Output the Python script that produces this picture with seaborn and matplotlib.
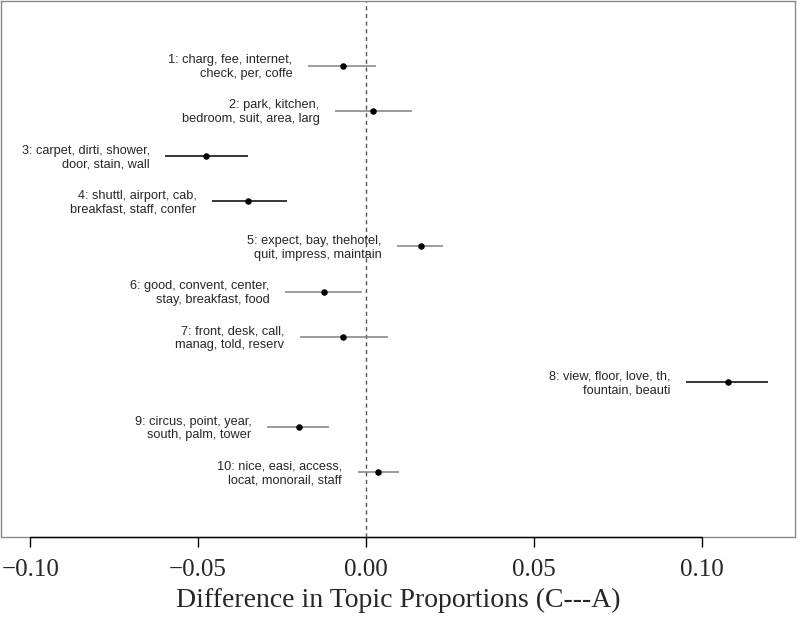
import matplotlib
matplotlib.use("Agg")
import matplotlib.pyplot as plt
import seaborn as sns
import pandas as pd

topics = [1, 2, 3, 4, 5, 6, 7, 8, 9, 10]
labels = [
    "1: charg, fee, internet,\ncheck, per, coffe",
    "2: park, kitchen,\nbedroom, suit, area, larg",
    "3: carpet, dirti, shower,\ndoor, stain, wall",
    "4: shuttl, airport, cab,\nbreakfast, staff, confer",
    "5: expect, bay, thehotel,\nquit, impress, maintain",
    "6: good, convent, center,\nstay, breakfast, food",
    "7: front, desk, call,\nmanag, told, reserv",
    "8: view, floor, love, th,\nfountain, beauti",
    "9: circus, point, year,\nsouth, palm, tower",
    "10: nice, easi, access,\nlocat, monorail, staff",
]
estimate = [-0.0069, 0.0022, -0.0477, -0.0350, 0.0163, -0.0126, -0.0067, 0.1077, -0.0199, 0.0036]
ci_lower = [-0.0172, -0.0092, -0.0598, -0.0459, 0.0093, -0.0241, -0.0197, 0.0954, -0.0295, -0.0025]
ci_upper = [0.0030, 0.0136, -0.0352, -0.0236, 0.0229, -0.0013, 0.0065, 0.1198, -0.0110, 0.0099]
line_colors = ["#808080", "#808080", "black", "black", "#808080",
               "#808080", "#808080", "black", "#808080", "#808080"]
xticks = [-0.10, -0.05, 0.00, 0.05, 0.10]
xtick_labels = ["\u22120.10", "\u22120.05", "0.00", "0.05", "0.10"]
xlabel = "Difference in Topic Proportions (C---A)"

df = pd.DataFrame({"topic": topics, "estimate": estimate,
                   "lower": ci_lower, "upper": ci_upper})

sns.set_style("white")
plt.rcParams["font.family"] = ["Liberation Sans", "DejaVu Sans"]

fig = plt.figure(figsize=(8, 6.22), dpi=100)
ax = fig.add_axes([1 / 800, 85 / 622, 794 / 800, 536 / 622])

XL = (-0.1087, 0.1278)
YL = (11.43, -0.43)
ax.set_xlim(*XL)
ax.set_ylim(*YL)

ax.axvline(0, color="#555555", lw=1.0, ls=(0, (3, 2.5)), zorder=1)

ax.hlines(df["topic"], df["lower"], df["upper"], colors=line_colors, lw=1.1, zorder=2)
sns.scatterplot(data=df, x="estimate", y="topic", color="black", s=22,
                edgecolor="black", linewidth=0, ax=ax, zorder=3)

for t, lo, lab in zip(topics, ci_lower, labels):
    ax.text(lo - 0.0046, t + 0.03, lab, ha="right", va="center",
            multialignment="right", fontsize=9.2, linespacing=1.18,
            family=["Liberation Sans", "DejaVu Sans"])

for side in ["top", "left", "right"]:
    ax.spines[side].set_color("#8a8a8a")
    ax.spines[side].set_linewidth(1.0)
ax.spines["bottom"].set_visible(False)
ax.plot(list(XL), [YL[0], YL[0]], color="#8a8a8a", lw=1.0, clip_on=False, zorder=4)
ax.plot([xticks[0], xticks[-1]], [YL[0], YL[0]], color="black", lw=1.0, clip_on=False, zorder=5)

ax.set_yticks([])
ax.set_xticks(xticks)
ax.set_xticklabels(xtick_labels, family=["Liberation Serif", "DejaVu Serif"], fontsize=18)
ax.tick_params(axis="x", direction="out", length=7, width=1, color="black",
               pad=9, bottom=True)
ax.set_xlabel(xlabel, family=["Liberation Serif", "DejaVu Serif"], fontsize=20, labelpad=5)
ax.set_ylabel("")

fig.savefig("out.png", dpi=100, facecolor="white")
